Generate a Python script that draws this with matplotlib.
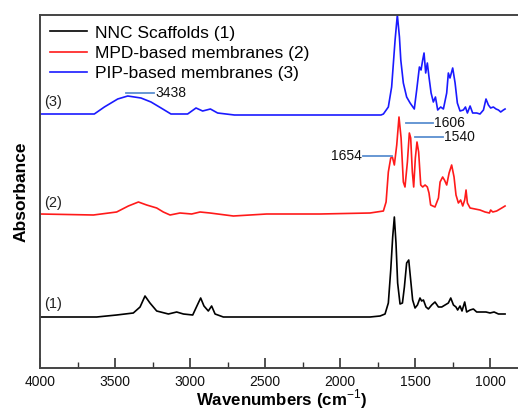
import matplotlib
matplotlib.use("Agg")
import matplotlib.pyplot as plt
from matplotlib.ticker import MultipleLocator

plt.rcParams['font.family'] = ['Liberation Sans', 'DejaVu Sans']
plt.rcParams['mathtext.fontset'] = 'custom'
plt.rcParams['mathtext.rm'] = 'Liberation Sans'
plt.rcParams['mathtext.bf'] = 'Liberation Sans:bold'

# ---- data (absorbance in arbitrary offset units) ----
wn_black = [4000, 3622, 3489, 3378, 3333, 3300, 3267, 3222, 3144, 3089, 3044, 2982,
            2951, 2929, 2907, 2878, 2856, 2833, 2778, 2133, 1800, 1733, 1700, 1678,
            1662, 1649, 1638, 1627, 1616, 1600, 1584, 1571, 1556, 1542, 1531, 1516,
            1500, 1484, 1467, 1456, 1444, 1427, 1411, 1389, 1367, 1344, 1322, 1300,
            1278, 1262, 1244, 1227, 1216, 1200, 1187, 1169, 1156, 1133, 1111, 1089,
            1056, 1027, 1000, 973, 944, 900]
ab_black = [0.51, 0.51, 0.53, 0.55, 0.61, 0.72, 0.65, 0.57, 0.54, 0.56, 0.54, 0.53,
            0.63, 0.70, 0.62, 0.57, 0.62, 0.54, 0.51, 0.51, 0.51, 0.52, 0.54, 0.65,
            0.98, 1.31, 1.51, 1.25, 0.85, 0.64, 0.65, 0.81, 1.05, 1.08, 0.91, 0.68,
            0.60, 0.63, 0.70, 0.67, 0.68, 0.61, 0.59, 0.63, 0.66, 0.61, 0.61, 0.63,
            0.65, 0.70, 0.63, 0.61, 0.58, 0.62, 0.57, 0.66, 0.56, 0.58, 0.59, 0.56,
            0.56, 0.56, 0.55, 0.56, 0.54, 0.54]

wn_red = [4000, 3644, 3489, 3411, 3344, 3289, 3222, 3178, 3133, 3067, 2989, 2933,
          2867, 2711, 2489, 2133, 1800, 1711, 1693, 1678, 1662, 1651, 1638, 1622,
          1607, 1593, 1578, 1567, 1551, 1538, 1529, 1518, 1509, 1498, 1487, 1476,
          1462, 1449, 1433, 1418, 1407, 1396, 1367, 1344, 1333, 1316, 1304, 1289,
          1273, 1256, 1240, 1227, 1211, 1196, 1182, 1169, 1160, 1151, 1133, 1100,
          1067, 1033, 1004, 996, 982, 956, 922, 900]
ab_red = [1.54, 1.53, 1.56, 1.62, 1.66, 1.63, 1.60, 1.56, 1.53, 1.55, 1.54, 1.56,
          1.55, 1.52, 1.54, 1.54, 1.55, 1.57, 1.66, 1.96, 2.10, 2.11, 2.03, 2.23,
          2.51, 2.30, 1.86, 1.81, 2.06, 2.35, 2.30, 1.96, 1.81, 2.10, 2.26, 2.16,
          1.83, 1.81, 1.83, 1.81, 1.75, 1.63, 1.61, 1.70, 1.86, 1.91, 1.88, 1.83,
          1.95, 2.03, 1.91, 1.73, 1.65, 1.68, 1.62, 1.68, 1.78, 1.65, 1.60, 1.59,
          1.58, 1.56, 1.55, 1.58, 1.56, 1.57, 1.60, 1.62]

wn_blue = [4000, 3638, 3571, 3482, 3415, 3327, 3260, 3193, 3127, 3016, 2960, 2916,
           2864, 2816, 2704, 1727, 1711, 1678, 1656, 1633, 1618, 1604, 1595, 1578,
           1556, 1533, 1505, 1489, 1471, 1460, 1449, 1440, 1429, 1418, 1407, 1393,
           1378, 1364, 1349, 1329, 1311, 1289, 1278, 1267, 1249, 1233, 1218, 1200,
           1178, 1164, 1151, 1133, 1116, 1089, 1067, 1044, 1027, 1011, 996, 978,
           960, 944, 929, 911, 900]
ab_blue = [2.54, 2.54, 2.61, 2.69, 2.72, 2.70, 2.66, 2.60, 2.54, 2.54, 2.60, 2.57,
           2.59, 2.55, 2.53, 2.53, 2.54, 2.61, 2.81, 3.28, 3.53, 3.31, 3.08, 2.85,
           2.71, 2.65, 2.59, 2.78, 3.01, 2.98, 3.08, 3.15, 2.95, 3.05, 2.91, 2.75,
           2.66, 2.71, 2.58, 2.61, 2.59, 2.75, 2.95, 2.90, 3.00, 2.85, 2.65, 2.57,
           2.58, 2.61, 2.55, 2.62, 2.55, 2.55, 2.54, 2.58, 2.69, 2.63, 2.60, 2.61,
           2.59, 2.58, 2.56, 2.58, 2.59]

series_labels = ['NNC Scaffolds (1)', 'MPD-based membranes (2)', 'PIP-based membranes (3)']
series_colors = ['#000000', '#ff1a1a', '#1a1aff']
curve_tags = ['(1)', '(2)', '(3)']
tag_y = [0.64, 1.65, 2.66]

peak_labels = ['3438', '1606', '1540', '1654']
peak_line_x0 = [3427, 1560, 1500, 1653]
peak_line_x1 = [3240, 1380, 1313, 1847]
peak_line_y = [2.75, 2.45, 2.31, 2.12]

xticks = [4000, 3500, 3000, 2500, 2000, 1500, 1000]

# ---- figure ----
W, H = 518, 411
fig = plt.figure(figsize=(W / 100, H / 100), dpi=100)
ax = fig.add_axes([40 / W, 43 / H, 482 / W, 353 / H])

for wn, ab, lab, col in zip([wn_black, wn_red, wn_blue], [ab_black, ab_red, ab_blue],
                            series_labels, series_colors):
    ax.plot(wn, ab, color=col, lw=1.2, label=lab)

for t, y in zip(curve_tags, tag_y):
    ax.text(3975, y, t, fontsize=10.5, ha='left', va='center', color='#222222')

ann_color = '#5b8fd0'
for lab, x0, x1, y in zip(peak_labels, peak_line_x0, peak_line_x1, peak_line_y):
    ax.plot([x0, x1], [y, y], color=ann_color, lw=1.3)
    if x1 < x0:
        ax.text(x1 - 8, y, lab, fontsize=10, ha='left', va='center', color='#111111')
    else:
        ax.text(x1 + 10, y, lab, fontsize=10, ha='right', va='center', color='#111111')

ax.set_xlim(4000, 787)
ax.set_ylim(0, 3.53)
ax.set_xticks(xticks)
ax.xaxis.set_minor_locator(MultipleLocator(250))
ax.tick_params(axis='x', which='major', direction='in', length=7, width=1.2,
               labelsize=10, pad=5, colors='#333333', labelcolor='#111111')
ax.tick_params(axis='x', which='minor', direction='in', length=4, width=1.0,
               colors='#333333')
ax.set_yticks([])
for s in ['left', 'bottom', 'top']:
    ax.spines[s].set_linewidth(1.4)
    ax.spines[s].set_color('#444444')
ax.spines['right'].set_visible(False)

ax.set_xlabel('Wavenumbers (cm$^{\\mathrm{-1}}$)', fontsize=12.2, fontweight='bold', labelpad=-1)
ax.set_ylabel('Absorbance', fontsize=12.5, fontweight='bold', labelpad=8)

leg = ax.legend(loc='upper left', frameon=False, fontsize=12.5, handlelength=2.1,
                handletextpad=0.45, labelspacing=0.3, borderaxespad=0.2,
                borderpad=0.4, bbox_to_anchor=(0.0, 1.0))

fig.savefig('out.png', dpi=100)
